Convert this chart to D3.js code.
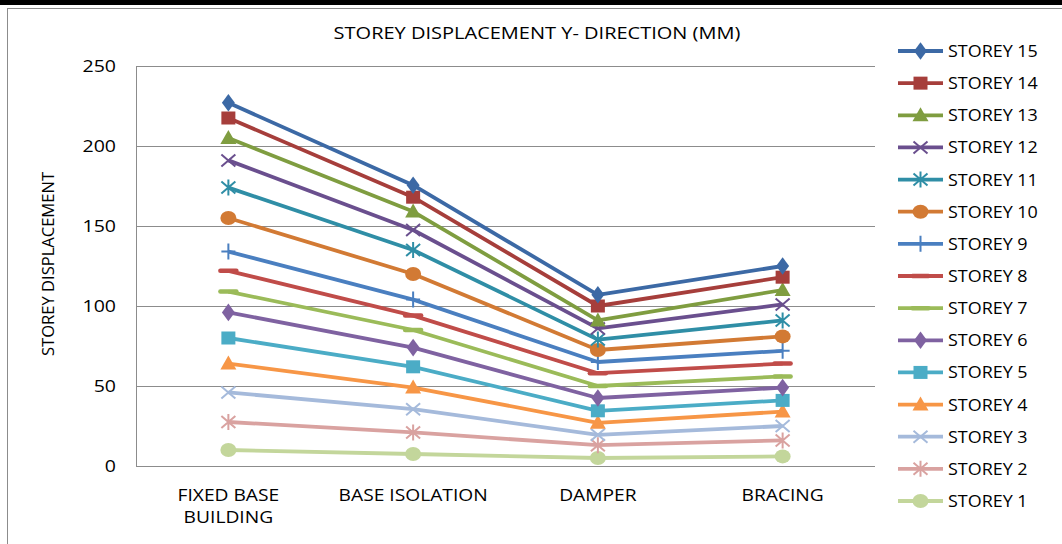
<!DOCTYPE html>
<html>
<head>
<meta charset="utf-8">
<script src="https://cdn.jsdelivr.net/npm/d3@7/dist/d3.min.js"></script>
<style>
  html, body { margin: 0; padding: 0; background: #fff; }
  svg { display: block; }
  text { font-family: "Open Sans", "Liberation Sans", sans-serif; fill: #000; }
</style>
</head>
<body>
<svg id="chart" width="1062" height="544"></svg>
<script>
// Loading schemes along the x axis
const categories = ["FIXED BASE BUILDING", "BASE ISOLATION", "DAMPER", "BRACING"];

// Storey names, top storey first (legend order)
const storeys = ["STOREY 15", "STOREY 14", "STOREY 13", "STOREY 12", "STOREY 11",
  "STOREY 10", "STOREY 9", "STOREY 8", "STOREY 7", "STOREY 6", "STOREY 5",
  "STOREY 4", "STOREY 3", "STOREY 2", "STOREY 1"];

// Displacement (mm) per storey for each scheme
const storey15 = [227, 175.5, 107, 125];
const storey14 = [217.5, 168, 100, 118];
const storey13 = [205, 159, 91, 110];
const storey12 = [191, 147.5, 86, 101];
const storey11 = [174, 135, 79, 91];
const storey10 = [155, 120, 72.5, 81];
const storey9  = [134, 104, 65, 72];
const storey8  = [122, 94, 58, 64];
const storey7  = [109, 85, 50, 56];
const storey6  = [96, 74, 42.5, 49];
const storey5  = [80, 62, 34.5, 41];
const storey4  = [64, 49, 27, 34];
const storey3  = [46, 35.5, 19.5, 25];
const storey2  = [27.5, 21, 13, 16];
const storey1  = [10, 7.5, 5, 6];

const yTicks = [0, 50, 100, 150, 200, 250];

const seriesValues = [storey15, storey14, storey13, storey12, storey11, storey10,
  storey9, storey8, storey7, storey6, storey5, storey4, storey3, storey2, storey1];

const colors = ["#3C69A5", "#A63E3B", "#7F9D40", "#6A4F8E", "#2F8EA6", "#D27A34",
  "#4A7FC0", "#C04C49", "#9BBB59", "#7F62A1", "#4BACC6", "#F79646",
  "#A5BADB", "#D9A2A0", "#C3D69B"];
const markers = ["diamond", "square", "triangle", "x", "star", "circle",
  "plus", "dash", "dash", "diamond", "square", "triangle", "x", "star", "circle"];

const series = storeys.map((name, i) => ({ name, values: seriesValues[i], color: colors[i], marker: markers[i] }));

const svg = d3.select("#chart");

// widen a text element horizontally by a factor, keeping its anchor
function widen(sel, factor) {
  sel.each(function () {
    const w = this.getComputedTextLength();
    d3.select(this).attr("textLength", w * factor).attr("lengthAdjust", "spacingAndGlyphs");
  });
}

// frame
svg.append("rect").attr("x", 0).attr("y", 0).attr("width", 1062).attr("height", 5).attr("fill", "#000");
svg.append("rect").attr("x", 7.5).attr("y", 8.5).attr("width", 1080).attr("height", 560)
  .attr("fill", "none").attr("stroke", "#8c8c8c").attr("stroke-width", 1);

const plot = { left: 136, right: 875, top: 66, bottom: 466 };

const x = d3.scalePoint().domain(categories).range([plot.left, plot.right]).padding(0.5);
const y = d3.scaleLinear().domain([0, 250]).range([plot.bottom, plot.top]);

// gridlines
svg.append("g").selectAll("line").data(yTicks).join("line")
  .attr("x1", plot.left).attr("x2", plot.right)
  .attr("y1", d => y(d) + 0.5).attr("y2", d => y(d) + 0.5)
  .attr("stroke", "#8c8c8c").attr("stroke-width", 1);

// y axis line
svg.append("line").attr("x1", plot.left + 0.5).attr("x2", plot.left + 0.5)
  .attr("y1", plot.top).attr("y2", plot.bottom + 0.5)
  .attr("stroke", "#8c8c8c");

// y axis labels
const yAxis = d3.axisLeft(y).tickValues(yTicks).tickSize(0).tickPadding(20);
const gy = svg.append("g").attr("transform", `translate(${plot.left},0)`).call(yAxis);
gy.select(".domain").remove();
gy.selectAll("text").style("font-size", "16px").style("font-family", "\"Open Sans\", sans-serif")
  .attr("fill", "#000").call(widen, 1.22);

// x axis labels
const xLabels = {"FIXED BASE BUILDING": ["FIXED BASE", "BUILDING"]};
const gx = svg.append("g");
categories.forEach(c => {
  const lines = xLabels[c] || [c];
  lines.forEach((l, k) => {
    gx.append("text").attr("x", x(c)).attr("y", 501 + k * 22)
      .attr("text-anchor", "middle").style("font-size", "16px").text(l);
  });
});
gx.selectAll("text").call(widen, 1.2);

// titles
svg.append("text").attr("x", 537).attr("y", 39).attr("text-anchor", "middle")
  .style("font-size", "16px").text("STOREY DISPLACEMENT Y- DIRECTION (MM)")
  .call(widen, 1.25);
svg.append("text").attr("transform", "translate(54,264) rotate(-90)")
  .attr("text-anchor", "middle").attr("textLength", 184).attr("lengthAdjust", "spacingAndGlyphs")
  .style("font-size", "16.5px").text("STOREY DISPLACEMENT");

// marker drawing
function drawMarker(g, type, color, cx, cy) {
  const sw = 2;
  switch (type) {
    case "diamond":
      g.append("path").attr("d", d3.symbol(d3.symbolDiamond, 110)()).attr("transform", `translate(${cx},${cy}) scale(1.15,0.9)`).attr("fill", color);
      break;
    case "square":
      g.append("rect").attr("x", cx - 7).attr("y", cy - 6.5).attr("width", 14).attr("height", 13).attr("fill", color);
      break;
    case "triangle":
      g.append("path").attr("d", `M${cx},${cy - 8}L${cx + 8},${cy + 6}L${cx - 8},${cy + 6}Z`).attr("fill", color);
      break;
    case "x":
      g.append("path").attr("d", `M${cx - 7},${cy - 6}L${cx + 7},${cy + 6}M${cx - 7},${cy + 6}L${cx + 7},${cy - 6}`)
        .attr("stroke", color).attr("stroke-width", sw).attr("fill", "none");
      break;
    case "star":
      g.append("path").attr("d", `M${cx - 7},${cy - 6}L${cx + 7},${cy + 6}M${cx - 7},${cy + 6}L${cx + 7},${cy - 6}M${cx},${cy - 8}L${cx},${cy + 8}`)
        .attr("stroke", color).attr("stroke-width", sw).attr("fill", "none");
      break;
    case "circle":
      g.append("ellipse").attr("cx", cx).attr("cy", cy).attr("rx", 8).attr("ry", 7).attr("fill", color);
      break;
    case "plus":
      g.append("path").attr("d", `M${cx - 7},${cy}L${cx + 7},${cy}M${cx},${cy - 8}L${cx},${cy + 8}`)
        .attr("stroke", color).attr("stroke-width", sw).attr("fill", "none");
      break;
    case "dash":
      g.append("path").attr("d", `M${cx - 8},${cy}L${cx + 8},${cy}`)
        .attr("stroke", color).attr("stroke-width", 4.5).attr("stroke-linecap", "round").attr("fill", "none");
      break;
  }
}

// lines and markers, lowest storey drawn first
const line = d3.line().x((d, i) => x(categories[i])).y(d => y(d));
const gs = svg.append("g");
series.slice().reverse().forEach(s => {
  const g = gs.append("g");
  g.append("path").attr("d", line(s.values)).attr("fill", "none")
    .attr("stroke", s.color).attr("stroke-width", 3.8).attr("stroke-linejoin", "round");
  s.values.forEach((v, i) => drawMarker(g, s.marker, s.color, x(categories[i]), y(v)));
});

// legend
const legendY = d3.scalePoint().domain(storeys).range([51, 501]);
const lg = svg.append("g");
series.forEach(s => {
  const ly = legendY(s.name);
  lg.append("line").attr("x1", 898).attr("x2", 943).attr("y1", ly).attr("y2", ly)
    .attr("stroke", s.color).attr("stroke-width", 3.8);
  drawMarker(lg, s.marker, s.color, 920.5, ly);
  lg.append("text").attr("x", 948).attr("y", ly + 6).style("font-size", "16px").text(s.name);
});
lg.selectAll("text").call(widen, 1.12);
</script>
</body>
</html>
